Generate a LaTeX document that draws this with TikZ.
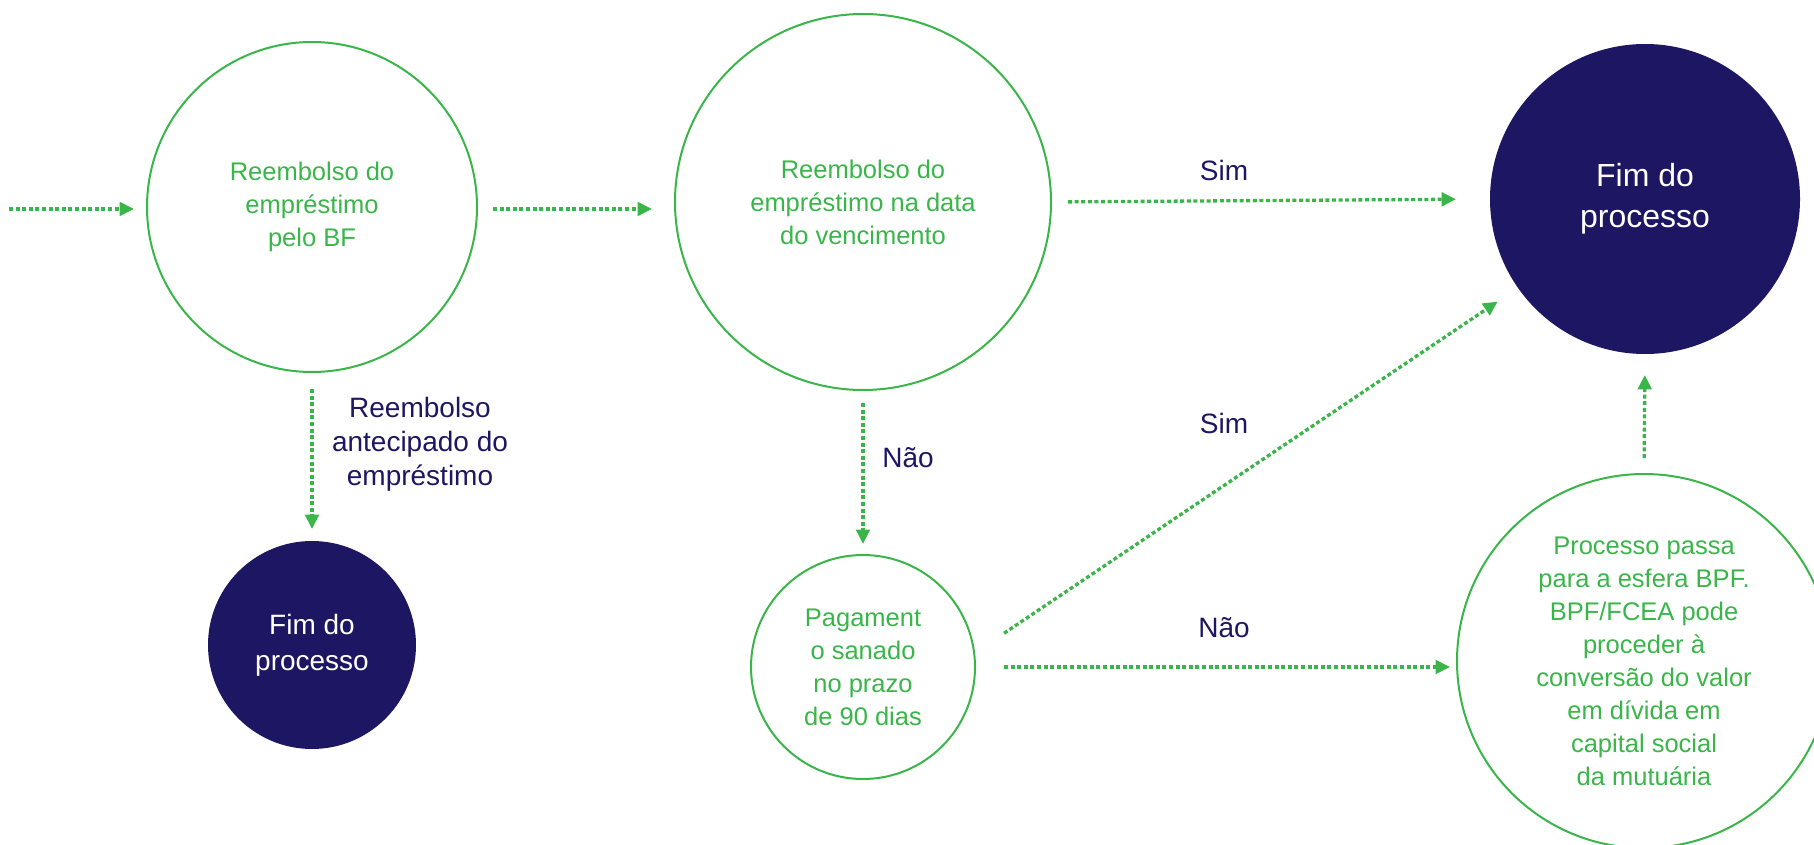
\documentclass[tikz,border=0pt]{standalone}
\usepackage{fontspec}
\setmainfont{Liberation Sans}
\usetikzlibrary{arrows.meta}
\definecolor{bfgreen}{HTML}{3AB54A}
\definecolor{bfnavy}{HTML}{1D1663}
\begin{document}
\begin{tikzpicture}[x=0.5pt,y=-0.5pt,
  stepcircle/.style={circle, draw=bfgreen, line width=1pt, inner sep=0pt, outer sep=0pt, align=center, text=bfgreen, font=\fontsize{12.75}{16.5}\selectfont},
  endcircle/.style={circle, fill=bfnavy, draw=none, inner sep=0pt, outer sep=0pt, align=center, text=white},
  lab/.style={text=bfnavy, font=\fontsize{14}{17}\selectfont, inner sep=0pt},
  arr/.style={draw=bfgreen, line width=1.65pt, dash pattern=on 2pt off 1.3pt, -{Triangle[length=7.2pt,width=6.8pt]}},
]
\useasboundingbox (0,0) rectangle (1814,845);

% nodes
\node[stepcircle, minimum size=165pt] (c1) at (312,207) {Reembolso do\\empréstimo\\pelo BF};
\node[stepcircle, minimum size=188pt] (c2) at (863,202) {Reembolso do\\empréstimo na data\\do vencimento};
\node[endcircle, minimum size=155pt, font=\fontsize{16}{20.5}\selectfont] (f1) at (1645,199) {Fim do\\processo};
\node[endcircle, minimum size=104pt, font=\fontsize{14}{18}\selectfont] (f2) at (312,645) {Fim do\\processo};
\node[stepcircle, minimum size=112pt] (pg) at (863,667) {Pagament\\o sanado\\no prazo\\de 90 dias};
\node[stepcircle, minimum size=187pt] (bg) at (1644,661) {Processo passa\\para a esfera BPF.\\BPF/FCEA pode\\proceder à\\conversão do valor\\em dívida em\\capital social\\da mutuária};

% connectors
\coordinate (in0) at (9,209);
\draw[arr, shorten >=6.5pt] (in0) -- (in0 -| c1.west);
\draw[arr, shorten <=8pt, shorten >=11.5pt] (c1.east |- in0) -- (c2.west |- in0);
\draw[arr, shorten <=8.5pt, shorten >=17pt] (c2.east) -- (f1.west);
\draw[arr, shorten <=8.5pt, shorten >=6pt] (c1.south) -- (f2.north);
\draw[arr, shorten <=6.5pt, shorten >=5.5pt] (c2.south) -- (pg.north);
\draw[arr, shorten <=18pt, shorten >=12.25pt] (pg.7.7) -- (f1.215.2);
\draw[arr, shorten <=14.5pt, shorten >=3.5pt] (pg.east) -- (pg.east -| bg.west);
\draw[arr, shorten <=8pt, shorten >=10.5pt] (bg.north) -- (f1.south);

% labels
\node[lab, anchor=base] (ls1) at (1224,181) {Sim};
\node[lab, anchor=base] (ls2) at (1224,433) {Sim};
\node[lab, anchor=base] (ln1) at (908,467) {Não};
\node[lab, anchor=base] (ln2) at (1224,637) {Não};
\node[lab, align=center] (lre) at (420,444) {Reembolso\\antecipado do\\empréstimo};
\end{tikzpicture}
\end{document}
